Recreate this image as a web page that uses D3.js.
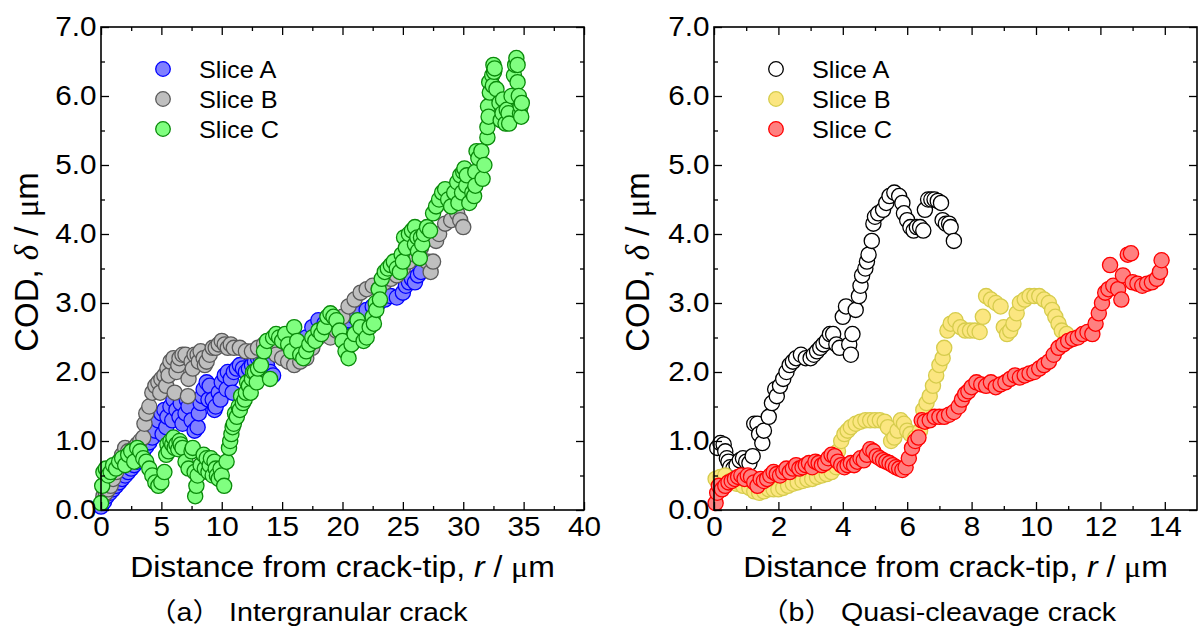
<!DOCTYPE html>
<html><head><meta charset="utf-8">
<script src="https://cdn.jsdelivr.net/npm/d3@7"></script>
<style>
body{margin:0;background:#fff}
svg{display:block}
text{font-family:"Liberation Sans",Arial,"Noto Sans CJK JP",sans-serif;fill:#000}
</style>
</head><body>
<svg id="chart" width="1200" height="634"></svg>
<script>
// ---------------- data ----------------
const yTicks = [0,1,2,3,4,5,6,7];
const yTickLabels = ["0.0","1.0","2.0","3.0","4.0","5.0","6.0","7.0"];
const yMinorTicks = [0.5,1.5,2.5,3.5,4.5,5.5,6.5];
const leftXTicks = [0,5,10,15,20,25,30,35,40];
const leftXMinorTicks = [2.5,7.5,12.5,17.5,22.5,27.5,32.5,37.5];
const rightXTicks = [0,2,4,6,8,10,12,14];
const rightXMinorTicks = [1,3,5,7,9,11,13];
const seriesNames = ["Slice A","Slice B","Slice C"];
const xTitle = "Distance from crack-tip, ";
const captions = ["（a） Intergranular crack","（b） Quasi-cleavage crack"];

const leftSliceA = [[0,0.05],[0.25,0.12],[0.5,0.2],[0.75,0.25],[1.0,0.3],[1.25,0.35],[1.5,0.4],[1.75,0.45],[2.0,0.5],[2.25,0.55],[2.5,0.6],[2.75,0.65],[3.0,0.7],[3.25,0.78],[3.5,0.85],[3.75,0.92],[4.0,0.98],[4.25,1.05],[4.5,1.15],[4.75,1.3],[5.0,1.4],[5.1,1.1],[5.25,1.45],[5.4,1.2],[5.5,1.35],[5.75,1.5],[5.9,1.3],[6.0,1.6],[6.25,1.45],[6.5,1.35],[6.6,1.55],[6.75,1.25],[7.0,1.4],[7.1,1.6],[7.25,1.5],[7.5,1.3],[7.75,1.15],[8.0,1.2],[8.1,1.4],[8.25,1.55],[8.4,1.65],[8.5,1.75],[8.75,1.85],[8.9,1.6],[9.0,1.8],[9.25,1.6],[9.4,1.45],[9.5,1.5],[9.75,1.7],[9.9,1.6],[10.0,1.85],[10.25,1.95],[10.4,1.75],[10.5,2.0],[10.75,1.9],[10.9,1.7],[11.0,2.0],[11.25,2.05],[11.5,2.1],[11.75,2.05],[12.0,2.0],[12.25,2.05],[12.5,2.1],[12.75,2.15],[13.0,2.2],[13.25,2.2],[13.5,2.25],[13.75,2.1],[14.0,2.0],[14.25,1.95],[14.5,2.3],[15.0,2.4],[15.5,2.35],[16.0,2.3],[16.5,2.4],[17.0,2.5],[17.5,2.65],[18.0,2.75],[18.5,2.7],[19.0,2.6],[19.5,2.6],[20.0,2.7],[20.5,2.75],[21.0,2.8],[21.5,2.85],[22.0,2.9],[22.5,2.95],[23.0,3.0],[23.5,3.05],[24.0,3.1],[24.5,3.08],[25.0,3.15],[25.25,3.25],[25.5,3.3],[25.75,3.35],[26.0,3.3],[26.25,3.4],[26.5,3.45]];

const leftSliceB = [[0.2,0.2],[0.4,0.25],[0.6,0.3],[0.8,0.35],[1.0,0.45],[1.25,0.55],[1.5,0.7],[1.75,0.8],[2.0,0.9],[2.25,0.85],[2.5,0.85],[2.75,0.9],[3.0,0.95],[3.25,1.0],[3.5,1.05],[3.6,1.25],[3.75,1.4],[4.0,1.5],[4.25,1.7],[4.5,1.8],[4.75,1.85],[4.9,1.7],[5.0,1.9],[5.25,1.95],[5.4,1.8],[5.5,2.05],[5.6,1.95],[5.75,2.15],[6.0,2.2],[6.1,1.7],[6.25,2.0],[6.4,2.1],[6.5,2.2],[6.75,2.25],[7.0,2.25],[7.2,1.65],[7.25,1.9],[7.5,2.15],[7.6,2.05],[7.75,2.25],[8.0,2.25],[8.1,2.15],[8.25,2.3],[8.5,2.2],[8.6,2.1],[8.75,2.15],[9.0,2.25],[9.25,2.35],[9.5,2.35],[9.75,2.4],[10.0,2.45],[10.25,2.4],[10.5,2.35],[10.75,2.4],[11.0,2.35],[11.5,2.35],[12.0,2.3],[12.5,2.3],[13.0,2.35],[13.5,2.4],[14.0,2.35],[14.5,2.25],[15.0,2.2],[15.5,2.15],[16.0,2.1],[16.5,2.15],[17.0,2.2],[17.5,2.35],[18.0,2.5],[18.5,2.6],[19.0,2.5],[19.5,2.6],[20.0,2.8],[20.5,2.95],[21.0,3.05],[21.5,3.15],[22.0,3.2],[22.5,3.25],[23.0,3.2],[23.5,3.3],[24.0,3.35],[24.5,3.4],[25.0,3.5],[25.5,3.6],[26.0,3.7],[26.5,3.8],[27.0,3.6],[27.3,3.45],[27.5,3.6],[27.75,3.9],[28.0,4.0],[28.5,4.15],[29.0,4.2],[29.5,4.3],[29.75,4.2],[30.0,4.1]];

const leftSliceC = [[0.0,0.1],[0.1,0.35],[0.2,0.55],[0.4,0.6],[0.6,0.5],[0.8,0.55],[1.0,0.65],[1.25,0.6],[1.5,0.7],[1.75,0.75],[2.0,0.65],[2.25,0.8],[2.5,0.85],[2.75,0.7],[3.0,0.9],[3.25,0.85],[3.5,0.75],[3.75,0.7],[4.0,0.6],[4.25,0.5],[4.5,0.4],[4.75,0.35],[5.0,0.4],[5.25,0.55],[5.4,0.8],[5.5,0.95],[5.6,0.85],[5.75,1.0],[5.9,0.95],[6.0,1.05],[6.1,0.9],[6.25,0.95],[6.4,0.88],[6.5,1.0],[6.6,0.95],[6.75,0.9],[7.0,0.7],[7.25,0.6],[7.5,0.85],[7.6,0.9],[7.75,0.55],[7.8,0.2],[7.9,0.35],[8.0,0.5],[8.25,0.65],[8.5,0.8],[8.6,0.6],[8.75,0.75],[8.9,0.55],[9.0,0.65],[9.1,0.75],[9.25,0.5],[9.4,0.7],[9.5,0.6],[9.6,0.5],[9.75,0.45],[9.9,0.6],[10.0,0.5],[10.2,0.35],[10.4,0.7],[10.6,0.9],[10.7,1.0],[10.8,1.1],[10.9,1.2],[11.0,1.25],[11.1,1.4],[11.25,1.35],[11.4,1.5],[11.5,1.45],[11.6,1.65],[11.75,1.55],[11.9,1.6],[12.0,1.7],[12.1,1.85],[12.25,1.8],[12.4,1.7],[12.5,1.9],[12.6,2.0],[12.75,2.0],[12.9,1.85],[13.0,2.05],[13.25,2.1],[13.5,2.3],[13.75,2.45],[14.0,1.9],[14.25,2.5],[14.5,2.55],[14.75,2.5],[15.0,2.45],[15.25,2.55],[15.5,2.4],[15.75,2.3],[16.0,2.65],[16.25,2.45],[16.5,2.25],[16.75,2.2],[17.0,2.3],[17.25,2.4],[17.5,2.5],[17.75,2.45],[18.0,2.6],[18.25,2.55],[18.5,2.65],[18.75,2.8],[19.0,2.85],[19.25,2.8],[19.5,2.75],[19.75,2.6],[20.0,2.45],[20.25,2.3],[20.5,2.2],[20.75,2.4],[21.0,2.55],[21.25,2.75],[21.5,2.65],[21.75,2.45],[22.0,2.5],[22.25,2.65],[22.5,2.8],[22.6,2.7],[22.75,3.0],[22.8,2.9],[23.0,3.2],[23.1,3.05],[23.25,3.35],[23.5,3.45],[23.75,3.5],[24.0,3.55],[24.25,3.6],[24.5,3.5],[24.75,3.45],[24.9,3.7],[25.0,3.6],[25.1,3.95],[25.25,3.8],[25.5,4.0],[25.75,4.05],[26.0,3.85],[26.0,4.1],[26.2,3.95],[26.25,3.75],[26.4,3.65],[26.5,3.95],[26.6,3.85],[26.75,4.0],[27.0,4.1],[27.25,4.05],[27.5,4.3],[27.75,4.4],[28.0,4.5],[28.25,4.6],[28.5,4.65],[28.75,4.5],[29.0,4.4],[29.25,4.6],[29.5,4.75],[29.6,4.45],[29.75,4.85],[29.9,4.6],[30.0,4.9],[30.1,4.95],[30.25,4.7],[30.3,4.85],[30.5,4.45],[30.75,4.6],[30.9,4.55],[31.0,4.9],[31.0,4.7],[31.1,5.2],[31.25,5.1],[31.5,5.2],[31.6,4.8],[31.75,5.0],[32.0,5.4],[32.0,5.55],[32.05,5.85],[32.1,5.7],[32.15,6.2],[32.2,6.05],[32.4,6.3],[32.45,6.15],[32.5,6.45],[32.55,6.35],[32.6,6.4],[32.75,6.1],[33.0,5.9],[33.1,5.65],[33.25,5.75],[33.3,5.95],[33.5,5.6],[33.6,5.8],[33.75,5.75],[33.8,5.6],[34.0,6.0],[34.2,6.3],[34.3,6.45],[34.4,6.55],[34.5,6.45],[34.5,6.2],[34.6,6.0],[34.7,5.75],[34.75,5.85],[34.8,5.7],[34.85,5.9]];

const rightSliceA = [[0.1,0.9],[0.2,0.97],[0.3,0.95],[0.35,0.85],[0.4,0.75],[0.45,0.7],[0.5,0.62],[0.6,0.6],[0.7,0.65],[0.8,0.72],[0.9,0.75],[1.0,0.7],[1.1,0.68],[1.2,0.78],[1.25,1.25],[1.35,1.25],[1.4,1.1],[1.5,0.97],[1.55,1.15],[1.7,1.35],[1.8,1.55],[1.9,1.75],[1.95,1.65],[2.05,1.8],[2.15,1.9],[2.25,2.0],[2.35,2.1],[2.45,2.15],[2.55,2.2],[2.7,2.25],[2.85,2.2],[3.0,2.2],[3.1,2.25],[3.2,2.3],[3.3,2.35],[3.4,2.4],[3.5,2.45],[3.6,2.55],[3.7,2.55],[3.8,2.4],[3.9,2.35],[4.0,2.8],[4.1,2.95],[4.2,2.4],[4.25,2.25],[4.3,2.55],[4.4,2.9],[4.5,3.1],[4.55,3.25],[4.6,3.4],[4.7,3.5],[4.75,3.6],[4.8,3.7],[4.9,3.9],[4.95,4.15],[5.0,4.25],[5.1,4.3],[5.25,4.35],[5.35,4.45],[5.45,4.55],[5.6,4.6],[5.75,4.55],[5.85,4.45],[5.9,4.3],[6.0,4.2],[6.1,4.1],[6.2,4.05],[6.3,4.1],[6.4,4.1],[6.5,4.05],[6.55,4.35],[6.65,4.5],[6.75,4.5],[6.85,4.5],[6.95,4.48],[7.05,4.45],[7.1,4.2],[7.2,4.15],[7.3,4.15],[7.35,4.1],[7.45,3.9]];

const rightSliceB = [[0.05,0.45],[0.2,0.48],[0.35,0.5],[0.5,0.42],[0.7,0.38],[0.9,0.35],[1.1,0.32],[1.25,0.27],[1.4,0.25],[1.55,0.27],[1.7,0.3],[1.85,0.3],[2.0,0.3],[2.15,0.32],[2.3,0.35],[2.45,0.38],[2.6,0.4],[2.75,0.42],[2.9,0.44],[3.05,0.45],[3.2,0.48],[3.35,0.5],[3.5,0.52],[3.65,0.55],[3.8,0.62],[3.85,0.85],[3.95,1.0],[4.05,1.1],[4.15,1.15],[4.25,1.2],[4.4,1.25],[4.55,1.28],[4.7,1.3],[4.85,1.3],[5.0,1.3],[5.15,1.3],[5.3,1.28],[5.4,1.2],[5.5,1.0],[5.6,1.05],[5.7,1.15],[5.8,1.3],[5.9,1.25],[6.0,1.15],[6.1,1.1],[6.25,1.05],[6.4,1.15],[6.5,1.45],[6.6,1.55],[6.7,1.65],[6.8,1.8],[6.9,1.95],[7.0,2.1],[7.1,2.2],[7.15,2.35],[7.25,2.6],[7.35,2.7],[7.5,2.75],[7.65,2.65],[7.8,2.6],[7.95,2.6],[8.1,2.6],[8.25,2.58],[8.35,2.8],[8.45,3.1],[8.6,3.05],[8.75,3.0],[8.9,2.95],[9.0,2.65],[9.1,2.55],[9.2,2.6],[9.3,2.7],[9.4,2.85],[9.5,3.0],[9.65,3.05],[9.8,3.1],[9.95,3.1],[10.1,3.1],[10.25,3.05],[10.4,3.0],[10.5,2.9],[10.6,2.8],[10.7,2.7],[10.8,2.6],[10.95,2.55]];

const rightSliceC = [[0.05,0.1],[0.1,0.25],[0.15,0.35],[0.25,0.3],[0.35,0.35],[0.45,0.4],[0.55,0.42],[0.65,0.45],[0.75,0.48],[0.85,0.5],[0.95,0.45],[1.05,0.5],[1.15,0.48],[1.25,0.4],[1.35,0.35],[1.45,0.45],[1.55,0.42],[1.65,0.45],[1.75,0.5],[1.85,0.55],[1.95,0.52],[2.05,0.5],[2.15,0.55],[2.25,0.6],[2.35,0.55],[2.45,0.6],[2.55,0.65],[2.65,0.6],[2.75,0.62],[2.85,0.65],[2.95,0.68],[3.05,0.62],[3.15,0.7],[3.25,0.68],[3.35,0.65],[3.45,0.68],[3.55,0.75],[3.65,0.8],[3.75,0.78],[3.85,0.7],[3.95,0.65],[4.05,0.62],[4.15,0.65],[4.25,0.68],[4.35,0.65],[4.45,0.7],[4.55,0.75],[4.65,0.72],[4.75,0.8],[4.85,0.88],[4.95,0.85],[5.05,0.78],[5.15,0.75],[5.25,0.72],[5.35,0.7],[5.45,0.68],[5.55,0.65],[5.65,0.62],[5.75,0.6],[5.85,0.58],[5.95,0.62],[6.05,0.75],[6.15,0.9],[6.25,1.0],[6.35,1.05],[6.45,1.3],[6.55,1.28],[6.7,1.3],[6.85,1.35],[7.0,1.35],[7.15,1.35],[7.3,1.38],[7.45,1.42],[7.6,1.5],[7.7,1.6],[7.8,1.68],[7.9,1.72],[8.0,1.78],[8.15,1.85],[8.3,1.82],[8.45,1.8],[8.6,1.85],[8.75,1.78],[8.9,1.82],[9.05,1.85],[9.2,1.9],[9.35,1.95],[9.5,1.92],[9.65,1.95],[9.8,1.98],[9.95,2.0],[10.1,2.05],[10.25,2.1],[10.4,2.15],[10.55,2.25],[10.7,2.35],[10.85,2.4],[11.0,2.45],[11.15,2.48],[11.3,2.5],[11.45,2.55],[11.6,2.58],[11.75,2.55],[11.85,2.7],[11.95,2.85],[12.05,3.0],[12.15,3.15],[12.25,3.2],[12.3,3.55],[12.4,3.25],[12.55,3.2],[12.65,3.05],[12.7,3.4],[12.85,3.7],[12.95,3.72],[13.0,3.3],[13.15,3.28],[13.3,3.25],[13.45,3.28],[13.6,3.3],[13.75,3.35],[13.85,3.45],[13.9,3.62]];

// ---------------- drawing ----------------
const svg = d3.select("#chart");
const SX = 1.1;           // horizontal text stretch seen in the reference
const TOP = 27, BOTTOM = 510;
const R = 7.6;

function styleAxis(sel) {
  sel.attr("font-family", null).attr("font-size", null);
  sel.select(".domain").remove();
  sel.selectAll(".tick line").attr("stroke", "#000").attr("stroke-width", 1.3);
}

function drawPanel(cfg) {
  const g = svg.append("g");
  const x = d3.scaleLinear().domain(cfg.xDomain).range([cfg.x0, cfg.x1]);
  const y = d3.scaleLinear().domain([0, 7]).range([BOTTOM, TOP]);

  // series
  cfg.series.forEach((s) => {
    g.append("g").selectAll("circle").data(d3.sort(s.data, d => d[0])).join("circle")
      .attr("cx", d => x(d[0])).attr("cy", d => y(d[1])).attr("r", R)
      .attr("fill", s.fill).attr("stroke", s.stroke).attr("stroke-width", 1.3);
  });

  // bottom
  const bMaj = g.append("g").attr("transform", `translate(0,${BOTTOM})`)
    .call(d3.axisBottom(x).tickValues(cfg.xTicks).tickSize(-8).tickSizeOuter(0).tickPadding(7).tickFormat(d => d));
  styleAxis(bMaj);
  bMaj.selectAll("text").attr("font-size", 27).attr("transform", `scale(${SX},1)`);
  const bMin = g.append("g").attr("transform", `translate(0,${BOTTOM})`)
    .call(d3.axisBottom(x).tickValues(cfg.xMinor).tickSize(-4).tickSizeOuter(0).tickFormat(""));
  styleAxis(bMin);
  // top
  const tMaj = g.append("g").attr("transform", `translate(0,${TOP})`)
    .call(d3.axisTop(x).tickValues(cfg.xTicks).tickSize(-8).tickSizeOuter(0).tickFormat(""));
  styleAxis(tMaj);
  const tMin = g.append("g").attr("transform", `translate(0,${TOP})`)
    .call(d3.axisTop(x).tickValues(cfg.xMinor).tickSize(-4).tickSizeOuter(0).tickFormat(""));
  styleAxis(tMin);
  // left
  const lMaj = g.append("g").attr("transform", `translate(${cfg.x0},0)`)
    .call(d3.axisLeft(y).tickValues(yTicks).tickSize(-8).tickSizeOuter(0).tickPadding(4).tickFormat((d, i) => yTickLabels[i]));
  styleAxis(lMaj);
  lMaj.selectAll("text").attr("font-size", 27).attr("transform", `scale(${SX},1)`);
  const lMin = g.append("g").attr("transform", `translate(${cfg.x0},0)`)
    .call(d3.axisLeft(y).tickValues(yMinorTicks).tickSize(-4).tickSizeOuter(0).tickFormat(""));
  styleAxis(lMin);
  // right
  const rMaj = g.append("g").attr("transform", `translate(${cfg.x1},0)`)
    .call(d3.axisRight(y).tickValues(yTicks).tickSize(-8).tickSizeOuter(0).tickFormat(""));
  styleAxis(rMaj);
  const rMin = g.append("g").attr("transform", `translate(${cfg.x1},0)`)
    .call(d3.axisRight(y).tickValues(yMinorTicks).tickSize(-4).tickSizeOuter(0).tickFormat(""));
  styleAxis(rMin);

  // frame
  g.append("rect").attr("x", cfg.x0).attr("y", TOP)
    .attr("width", cfg.x1 - cfg.x0).attr("height", BOTTOM - TOP)
    .attr("fill", "none").attr("stroke", "#000").attr("stroke-width", 1.6);

  // legend
  cfg.series.forEach((s, i) => {
    const ly = 69 + i * 30;
    g.append("circle").attr("cx", cfg.x0 + 62).attr("cy", ly).attr("r", 7.3)
      .attr("fill", s.fill).attr("stroke", s.stroke).attr("stroke-width", 1.3);
    g.append("g").attr("transform", `translate(${cfg.x0 + 98},${ly + 8.5}) scale(${SX},1)`)
      .append("text").attr("font-size", 23).text(seriesNames[i]);
  });

  // x title
  const xt = g.append("g").attr("transform", `translate(${(cfg.x0 + cfg.x1) / 2},577) scale(${SX},1)`)
    .append("text").attr("font-size", 29).attr("text-anchor", "middle");
  xt.append("tspan").text(xTitle);
  xt.append("tspan").attr("font-style", "italic").text("r");
  xt.append("tspan").text(" / ");
  xt.append("tspan").attr("font-family", "Liberation Serif, serif").text("μ");
  xt.append("tspan").text("m");

  // y title
  const yt = g.append("g").attr("transform", `translate(${cfg.yTitleX},262) rotate(-90) scale(1.1,1.12)`)
    .append("text").attr("font-size", 30).attr("text-anchor", "middle");
  yt.append("tspan").text("COD, ");
  yt.append("tspan").attr("font-family", "Liberation Serif, serif").attr("font-style", "italic").text("δ");
  yt.append("tspan").text(" / ");
  yt.append("tspan").attr("font-family", "Liberation Serif, serif").text("μ");
  yt.append("tspan").text("m");

  // caption
  g.append("g").attr("transform", `translate(${cfg.capX},621) scale(${SX},1)`)
    .append("text").attr("font-size", 26).text(cfg.caption);
}

drawPanel({
  x0: 101, x1: 584, xDomain: [0, 40], xTicks: leftXTicks, xMinor: leftXMinorTicks,
  yTitleX: 38, capX: 148, caption: captions[0],
  series: [
    {data: leftSliceA, fill: "#8080ff", stroke: "#0000ff"},
    {data: leftSliceB, fill: "#bfbfbf", stroke: "#5a5a5a"},
    {data: leftSliceC, fill: "#80ff80", stroke: "#0a8a0a"}
  ]
});
drawPanel({
  x0: 714, x1: 1197, xDomain: [0, 15], xTicks: rightXTicks, xMinor: rightXMinorTicks,
  yTitleX: 649, capX: 760, caption: captions[1],
  series: [
    {data: rightSliceA, fill: "#ffffff", stroke: "#000000"},
    {data: rightSliceB, fill: "#fbe680", stroke: "#d6cc4c"},
    {data: rightSliceC, fill: "#ff8080", stroke: "#ff0000"}
  ]
});
</script>
</body></html>
